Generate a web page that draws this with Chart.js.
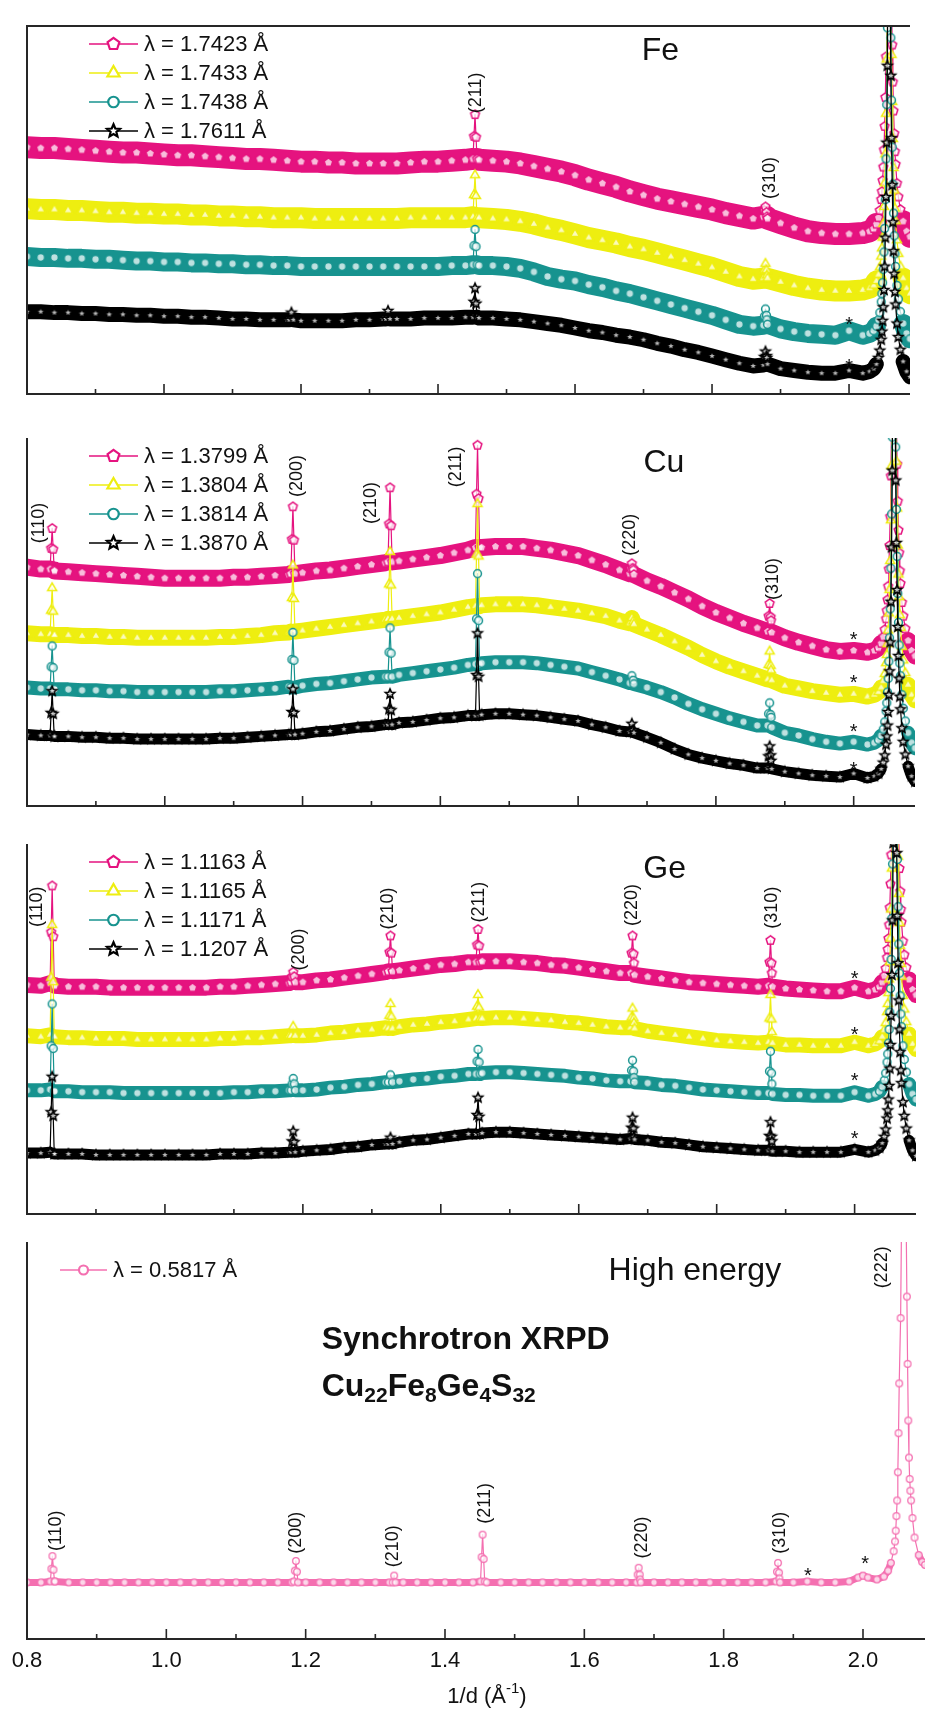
<!DOCTYPE html>
<html>
<head>
<meta charset="utf-8">
<script src="https://cdn.jsdelivr.net/npm/chart.js@4.4.1/dist/chart.umd.min.js"></script>
<style>
  html, body { margin: 0; padding: 0; background: #fff; }
  #wrap { position: relative; width: 936px; height: 1713px; overflow: hidden; background: #fff; }
  #wrap canvas { position: absolute; left: 0; }
</style>
</head>
<body>
<div id="wrap">
  <canvas id="p-fe" width="936" height="420" style="top:0px"></canvas>
  <canvas id="p-cu" width="936" height="410" style="top:417px"></canvas>
  <canvas id="p-ge" width="936" height="410" style="top:824px"></canvas>
  <canvas id="p-he" width="936" height="482" style="top:1231px"></canvas>
</div>
<script>
/* ---------- data (intensity in a.u., offset per pattern) ---------- */

const xTicks = [0.8, 0.9, 1.0, 1.1, 1.2, 1.3, 1.4, 1.5, 1.6, 1.7, 1.8, 1.9, 2.0];
const xTickLabels = ['0.8', '', '1.0', '', '1.2', '', '1.4', '', '1.6', '', '1.8', '', '2.0'];

// background sampled every 0.02 Å-1
const xGrid = [0.80,0.82,0.84,0.86,0.88,0.90,0.92,0.94,0.96,0.98,1.00,1.02,1.04,1.06,1.08,1.10,1.12,1.14,1.16,1.18,
  1.20,1.22,1.24,1.26,1.28,1.30,1.32,1.34,1.36,1.38,1.40,1.42,1.44,1.46,1.48,1.50,1.52,1.54,1.56,1.58,
  1.60,1.62,1.64,1.66,1.68,1.70,1.72,1.74,1.76,1.78,1.80,1.82,1.84,1.86,1.88,1.90,1.92,1.94,1.96,1.98,2.00,2.02];

// (222) reflection, cut by the panel top
const mainX = [2.030,2.036,2.040,2.043,2.045,2.047,2.048,2.049,2.050,2.051,2.052,2.053,2.054,2.055,2.056,2.058,
  2.060,2.061,2.062,2.063,2.064,2.065,2.066,2.067,2.068,2.070,2.072,2.075,2.079,2.084,2.089,2.093];

// ---- Fe K-edge
const feLambdas = ['1.7423', '1.7433', '1.7438', '1.7611'];
const feMagenta = [273,272,272,271,270,269,268,267,267,266,265,264,264,263,262,261,260,260,259,258,
  257,257,256,256,255,255,255,255,256,257,257,258,259,259,258,257,255,252,249,246,
  242,237,233,229,224,220,216,213,210,207,204,200,197,194,196,189,184,180,178,177,177,178];
const feMagentaPk = [[1.451,260],[1.4525,285],[1.454,309],[1.4555,284],[1.457,260],
  [1.875,196],[1.8765,203],[1.878,207],[1.8795,201],[1.881,194]];
const feMagentaMain = [180,183,188,195,203,215,224,236,251,270,296,328,373,433,518,878,
  597,507,438,386,345,313,288,268,254,233,218,204,191,180,174,169];

const feYellow = [205,204,204,203,203,202,201,201,200,200,199,199,198,198,197,197,196,196,195,195,
  195,194,194,194,194,194,194,194,195,195,195,195,195,195,194,193,191,188,184,181,
  177,173,170,167,163,160,156,152,148,144,140,135,130,127,131,124,120,117,115,114,114,115];
const feYellowPk = [[1.451,196],[1.4525,220],[1.454,242],[1.4555,219],[1.457,195],
  [1.875,128],[1.8765,137],[1.878,144],[1.8795,137],[1.881,128]];
const feYellowMain = [117,120,125,132,140,152,161,173,188,207,233,265,310,370,455,815,
  534,444,375,323,282,250,225,205,191,170,155,141,128,117,111,106];

const feTeal = [152,151,151,150,150,149,149,148,147,147,146,146,145,145,144,144,143,143,142,142,
  141,141,141,141,141,141,141,141,141,141,141,142,142,142,142,141,139,135,130,127,
  125,121,118,114,111,107,103,99,95,91,87,82,77,75,82,72,69,67,66,65,70,65];
const feTealPk = [[1.451,143],[1.4525,164],[1.454,182],[1.4555,163],[1.457,143],
  [1.875,76],[1.8765,86],[1.878,94],[1.8795,87],[1.881,77]];
const feTealMain = [67,70,75,82,90,102,111,123,138,157,183,215,260,320,405,765,
  484,394,325,273,232,200,175,155,141,120,105,91,78,67,61,56];

const feBlack = [91,91,90,90,89,89,88,88,87,87,86,86,85,85,84,83,83,82,82,82,
  81,81,81,81,82,82,83,83,83,84,84,84,85,84,84,83,82,80,78,76,
  73,70,68,65,63,60,56,53,49,46,42,38,34,31,40,28,26,24,23,23,26,23];
const feBlackPk = [[1.183,82],[1.186,90],[1.189,82],[1.324,83],[1.327,92],[1.330,83],
  [1.451,85],[1.4525,102],[1.454,117],[1.4555,100],[1.457,85],
  [1.875,32],[1.8765,41],[1.878,47],[1.8795,42],[1.881,33]];
const feBlackMain = [25,28,33,40,48,60,69,81,96,115,141,173,218,278,363,723,
  442,352,283,231,190,158,133,113,99,78,63,49,36,25,19,14];

// ---- Cu K-edge
const cuLambdas = ['1.3799', '1.3804', '1.3814', '1.3870'];
const cuMagenta = [264,262,260,259,258,257,256,255,254,253,252,252,252,252,252,253,253,254,255,256,
  258,260,261,263,265,267,269,271,273,275,277,280,283,286,287,287,287,285,283,280,
  277,272,267,261,261,249,243,236,229,221,214,208,202,197,205,186,181,177,173,171,172,170];
const cuMagentaPk = [[0.8335,262],[0.835,285],[0.8365,307],[0.838,284],[0.8395,261],
  [1.183,257],[1.1845,295],[1.186,331],[1.1875,294],[1.189,257],
  [1.324,270],[1.3255,312],[1.327,352],[1.3285,310],[1.330,270],
  [1.451,286],[1.4525,345],[1.454,399],[1.4555,340],[1.457,286],
  [1.675,257],[1.6765,263],[1.678,268],[1.6795,263],[1.681,256],
  [1.875,193],[1.8765,210],[1.878,224],[1.8795,209],[1.881,192]];
const cuMagentaMain = [172,175,180,187,195,207,216,228,243,262,288,320,365,425,510,870,
  589,499,430,378,337,305,280,260,246,225,210,196,183,172,166,161];

const cuYellow = [191,190,189,189,188,188,187,187,186,186,186,186,186,186,187,187,188,189,191,192,
  194,196,198,200,202,204,206,208,210,212,214,217,220,222,223,223,223,222,220,218,
  216,213,210,205,204,195,189,182,175,167,160,154,149,144,150,133,130,127,125,123,124,121];
const cuYellowPk = [[0.8335,190],[0.835,216],[0.8365,241],[0.838,215],[0.8395,189],
  [1.183,193],[1.1845,230],[1.186,266],[1.1875,229],[1.189,193],
  [1.324,207],[1.3255,245],[1.327,281],[1.3285,244],[1.330,207],
  [1.451,221],[1.4525,278],[1.454,334],[1.4555,276],[1.457,221],
  [1.675,202],[1.678,208],[1.681,201],
  [1.875,140],[1.8765,156],[1.878,171],[1.8795,155],[1.881,139]];
const cuYellowMain = [123,126,131,138,146,158,167,179,194,213,239,271,316,376,461,821,
  540,450,381,329,288,256,231,211,197,176,161,147,134,123,117,112];

const cuTeal = [131,130,129,129,128,128,127,127,126,126,126,126,126,126,127,127,128,129,130,132,
  133,135,136,138,140,142,143,145,147,149,151,153,156,158,159,159,159,158,156,154,
  152,148,144,140,139,131,126,120,113,107,102,97,93,89,98,81,78,74,71,69,71,68];
const cuTealPk = [[0.8335,130],[0.835,154],[0.8365,177],[0.838,153],[0.8395,129],
  [1.183,131],[1.1845,162],[1.186,192],[1.1875,161],[1.189,131],
  [1.324,143],[1.3255,170],[1.327,197],[1.3285,169],[1.330,143],
  [1.451,157],[1.4525,207],[1.454,257],[1.4555,205],[1.457,157],
  [1.675,136],[1.678,144],[1.681,135],
  [1.875,89],[1.8765,102],[1.878,114],[1.8795,101],[1.881,87]];
const cuTealMain = [70,73,78,85,93,105,114,126,141,160,186,218,263,323,408,768,
  487,397,328,276,235,203,178,158,144,123,108,94,81,70,64,59];

const cuBlack = [79,78,77,77,76,76,75,75,74,74,74,74,74,74,75,75,76,77,78,79,
  80,82,83,85,87,88,90,92,93,95,97,98,100,101,102,102,101,100,98,96,
  94,90,87,83,84,76,70,63,57,53,50,47,45,42,50,38,36,34,33,32,36,31];
const cuBlackPk = [[0.8335,78],[0.835,103],[0.8365,127],[0.838,102],[0.8395,77],
  [1.183,79],[1.1845,104],[1.186,129],[1.1875,103],[1.189,79],
  [1.324,90],[1.3255,107],[1.327,124],[1.3285,106],[1.330,90],
  [1.451,100],[1.4525,145],[1.454,191],[1.4555,143],[1.457,100],
  [1.675,82],[1.678,91],[1.681,81],
  [1.875,42],[1.8765,55],[1.878,66],[1.8795,56],[1.881,41]];
const cuBlackMain = [33,36,41,48,56,68,77,89,104,123,149,181,226,286,371,731,
  450,360,291,239,198,166,141,121,107,86,71,57,44,33,27,22];

// ---- Ge K-edge
const geLambdas = ['1.1163', '1.1165', '1.1171', '1.1207'];
const geMagenta = [252,251,251,250,250,250,249,249,249,249,249,249,249,249,250,250,251,252,253,254,
  255,257,258,260,262,264,266,268,270,272,274,275,277,278,278,278,277,276,274,273,
  271,269,267,265,276,261,259,257,255,254,253,252,251,250,265,248,247,246,245,245,249,245];
const geMagentaPk = [[0.8335,254],[0.835,310],[0.8365,361],[0.838,305],[0.8395,252],
  [1.183,255],[1.1845,261],[1.186,266],[1.1875,261],[1.189,255],
  [1.324,267],[1.3255,288],[1.327,306],[1.3285,287],[1.330,267],
  [1.451,277],[1.4525,296],[1.454,313],[1.4555,295],[1.457,277],
  [1.675,265],[1.6765,287],[1.678,306],[1.6795,286],[1.681,263],
  [1.875,251],[1.8765,277],[1.878,301],[1.8795,276],[1.881,250]];
const geMagentaMain = [247,250,255,262,270,282,291,303,318,337,363,395,440,500,585,945,
  664,574,505,453,412,380,355,335,321,300,285,271,258,247,241,236];

const geYellow = [196,195,195,194,194,193,193,193,192,192,192,192,192,192,193,193,194,194,195,196,
  196,197,199,200,202,203,205,206,208,209,211,212,214,215,216,216,215,214,213,211,
  210,208,206,205,210,201,199,197,195,193,191,190,189,188,200,186,186,185,185,185,189,185];
const geYellowPk = [[0.8335,197],[0.835,260],[0.8365,318],[0.838,255],[0.8395,195],
  [1.183,196],[1.186,206],[1.189,196],
  [1.324,204],[1.3255,218],[1.327,231],[1.3285,217],[1.330,204],
  [1.451,215],[1.4525,228],[1.454,241],[1.4555,227],[1.457,215],
  [1.675,205],[1.6765,216],[1.678,226],[1.6795,215],[1.681,204],
  [1.875,189],[1.8765,215],[1.878,241],[1.8795,214],[1.881,188]];
const geYellowMain = [187,190,195,202,210,222,231,243,258,277,303,335,380,440,525,885,
  604,514,445,393,352,320,295,275,261,240,225,211,198,187,181,176];

const geTeal = [136,136,135,135,134,134,134,133,133,133,133,133,133,133,133,134,134,135,135,136,
  136,137,139,140,142,143,145,146,148,149,151,152,154,155,156,156,155,154,153,152,
  150,149,147,146,150,144,142,141,139,137,136,135,134,133,143,131,131,130,130,130,134,130];
const geTealPk = [[0.8335,137],[0.835,185],[0.8365,231],[0.838,182],[0.8395,135],
  [1.183,136],[1.1845,143],[1.186,149],[1.1875,143],[1.189,136],
  [1.324,145],[1.327,153],[1.330,145],
  [1.451,154],[1.4525,168],[1.454,181],[1.4555,167],[1.457,154],
  [1.675,146],[1.6765,158],[1.678,169],[1.6795,157],[1.681,145],
  [1.875,133],[1.8765,157],[1.878,179],[1.8795,155],[1.881,132]];
const geTealMain = [132,135,140,147,155,167,176,188,203,222,248,280,325,385,470,830,
  549,459,390,338,297,265,240,220,206,185,170,156,143,132,126,121];

const geBlack = [67,67,66,66,66,65,65,65,65,65,65,65,65,65,66,66,66,67,67,68,
  69,70,71,73,74,76,77,79,81,82,84,86,88,89,90,90,89,88,87,86,
  85,84,83,82,85,81,79,78,76,74,73,72,71,70,80,69,68,68,68,68,71,68];
const geBlackPk = [[0.8335,68],[0.835,112],[0.8365,151],[0.838,108],[0.8395,66],
  [1.183,68],[1.1845,80],[1.186,91],[1.1875,79],[1.189,68],
  [1.324,77],[1.327,84],[1.330,77],
  [1.451,88],[1.4525,109],[1.454,128],[1.4555,107],[1.457,88],
  [1.675,83],[1.6765,95],[1.678,106],[1.6795,94],[1.681,82],
  [1.875,70],[1.8765,86],[1.878,101],[1.8795,85],[1.881,69]];
const geBlackMain = [70,73,78,85,93,105,114,126,141,160,186,218,263,323,408,768,
  487,397,328,276,235,203,178,158,144,123,108,94,81,70,64,59];

// ---- high energy
const heLambdas = ['0.5817'];
const hePink = [58,58,59,58,58,58,58,58,58,58,58,58,58,58,58,58,58,58,58,58,
  58,58,58,58,58,58,58,58,58,58,58,58,58,58,58,58,58,58,58,58,
  58,58,58,58,61,58,58,58,58,58,58,58,58,58,62,58,59,58,58,59,65,61];
const hePinkPk = [[0.8335,59],[0.835,72],[0.8365,85],[0.838,71],[0.8395,59],
  [1.183,59],[1.1845,70],[1.186,80],[1.1875,69],[1.189,58],
  [1.325,58],[1.327,65],[1.329,58],
  [1.451,59],[1.4525,84],[1.454,107],[1.4555,82],[1.457,59],
  [1.675,58],[1.6765,66],[1.678,73],[1.6795,66],[1.681,58],
  [1.875,59],[1.8765,69],[1.878,78],[1.8795,68],[1.881,58],
  [1.993,63],[2.007,63]];
const heMainX = [2.030,2.036,2.040,2.044,2.046,2.047,2.048,2.049,2.050,2.051,2.052,2.054,2.056,2.058,
  2.061,2.063,2.064,2.065,2.066,2.067,2.068,2.069,2.071,2.074,2.080,2.085,2.089];
const hePinkMain = [64,70,78,90,100,111,126,142,171,211,262,329,480,900,
  500,351,282,224,186,164,152,142,124,104,86,79,76];

// reflection labels: [text, 1/d, intensity]
const feHkl = [['(211)',1.455,333],['(310)',1.884,239]];
const cuHkl = [['(110)',0.817,313],['(200)',1.192,365],['(210)',1.299,335],['(211)',1.423,375],['(220)',1.676,300],['(310)',1.883,251]];
const geHkl = [['(110)',0.814,338],['(200)',1.195,291],['(210)',1.323,336],['(211)',1.455,343],['(220)',1.677,340],['(310)',1.880,337]];
const heHkl = [['(110)',0.841,111],['(200)',1.186,109],['(210)',1.326,95],['(211)',1.458,139],['(220)',1.683,104],['(310)',1.881,109],['(222)',2.028,381]];

// impurity marks
const feStars = [[2.0,80],[2.0,34]];
const cuStars = [[2.0,187],[2.0,140],[2.0,86],[2.0,44]];
const geStars = [[2.0,262],[2.0,201],[2.0,150],[2.0,86]];
const heStars = [[1.921,68],[2.003,80]];

/* ---------- styling ---------- */

const FONT = "'Liberation Sans', Arial, Helvetica, sans-serif";
const AXIS = '#262626';
const COLORS = { magenta: '#e5137f', yellow: '#eeee10', teal: '#17938f', black: '#000000', pink: '#f46fb0' };

function shapePath(g, shape, cx, cy, r) {
  g.beginPath();
  if (shape === 'circle') {
    g.arc(cx, cy, r, 0, Math.PI * 2);
  } else {
    const n = shape === 'triangle' ? 3 : 5;
    const steps = shape === 'star' ? 10 : n;
    for (let i = 0; i < steps; i++) {
      const ang = -Math.PI / 2 + i * 2 * Math.PI / steps;
      const rr = shape === 'star' && i % 2 ? r * 0.45 : r;
      const px = cx + rr * Math.cos(ang), py = cy + rr * Math.sin(ang);
      i ? g.lineTo(px, py) : g.moveTo(px, py);
    }
    g.closePath();
  }
}

function drawMarker(g, shape, color, x, y, r, lw, fill) {
  shapePath(g, shape, x, y, r);
  g.fillStyle = fill || '#fff';
  g.fill();
  g.lineWidth = lw;
  g.strokeStyle = color;
  g.stroke();
}

function makeMarker(shape, color, r, lw) {
  const size = Math.ceil(2 * r + 2 * lw + 2);
  const c = document.createElement('canvas');
  c.width = size; c.height = size;
  drawMarker(c.getContext('2d'), shape, color, size / 2, size / 2, r, lw, 'rgba(255,255,255,0.72)');
  return c;
}

const MARK = {
  magenta: { shape: 'pentagon', r: 4.6, lw: 1.5 },
  yellow: { shape: 'triangle', r: 5.2, lw: 1.5 },
  teal: { shape: 'circle', r: 3.9, lw: 1.5 },
  black: { shape: 'star', r: 5.0, lw: 1.6 },
  pink: { shape: 'circle', r: 3.3, lw: 1.3 }
};

function buildPoints(grid, peaks, mx, main) {
  const pts = xGrid.map((x, i) => ({ x, y: grid[i] }));
  peaks.forEach(p => pts.push({ x: p[0], y: p[1] }));
  mx.forEach((x, i) => pts.push({ x, y: main[i] }));
  return pts.sort((a, b) => a.x - b.x);
}

function makeDataset(key, pts, band, order) {
  const m = MARK[key];
  return {
    data: pts,
    borderColor: COLORS[key],
    backgroundColor: '#fff',
    borderWidth: band,
    borderCapStyle: 'round',
    borderJoinStyle: 'round',
    pointStyle: makeMarker(m.shape, COLORS[key], m.r, m.lw),
    pointRadius: 3,
    order,
    clip: 0,
    segment: {
      // thick band along the background, thin line up the Bragg peaks
      borderWidth: ctx => {
        const dx = Math.abs(ctx.p1.x - ctx.p0.x);
        const dy = Math.abs(ctx.p1.y - ctx.p0.y);
        return dy > 3 * Math.max(dx, 0.5) ? 1.2 : band;
      }
    }
  };
}

const decor = {
  'p-fe': { top: true, name: 'Fe', nameAt: [1.7245, 379], hkl: feHkl, stars: feStars,
    legend: feLambdas.map((l, i) => [['magenta', 'yellow', 'teal', 'black'][i], l]) },
  'p-cu': { name: 'Cu', nameAt: [1.7245, 379], hkl: cuHkl, stars: cuStars,
    legend: cuLambdas.map((l, i) => [['magenta', 'yellow', 'teal', 'black'][i], l]) },
  'p-ge': { name: 'Ge', nameAt: [1.7245, 379], hkl: geHkl, stars: geStars,
    legend: geLambdas.map((l, i) => [['magenta', 'yellow', 'teal', 'black'][i], l]) },
  'p-he': { name: 'High energy', nameAt: [1.7587, 377], hkl: heHkl, stars: heStars, axis: true, he: true,
    legend: heLambdas.map(l => ['pink', l]) }
};

const decorPlugin = {
  id: 'decor',
  afterDatasetsDraw(chart) {
    const d = decor[chart.canvas.id];
    const { ctx, chartArea: a } = chart;
    const x = chart.scales.x, y = chart.scales.y;
    ctx.save();

    // frame and inward ticks
    ctx.strokeStyle = AXIS;
    ctx.lineWidth = 2;
    ctx.beginPath();
    ctx.moveTo(a.left, a.top); ctx.lineTo(a.left, a.bottom);
    ctx.moveTo(a.left - 1, a.bottom); ctx.lineTo(a.right, a.bottom);
    if (d.top) { ctx.moveTo(a.left - 1, a.top); ctx.lineTo(a.right, a.top); }
    ctx.stroke();
    ctx.lineWidth = 1.6;
    ctx.beginPath();
    xTicks.forEach((v, i) => {
      const px = x.getPixelForValue(v);
      ctx.moveTo(px, a.bottom); ctx.lineTo(px, a.bottom - (xTickLabels[i] ? 10 : 5));
    });
    ctx.stroke();

    ctx.fillStyle = '#111';

    // panel name
    ctx.font = '32px ' + FONT;
    ctx.textAlign = 'center';
    ctx.textBaseline = 'middle';
    ctx.fillText(d.name, x.getPixelForValue(d.nameAt[0]), y.getPixelForValue(d.nameAt[1]));

    // reflection labels
    ctx.font = '18px ' + FONT;
    d.hkl.forEach(([t, v, h]) => {
      ctx.save();
      ctx.translate(x.getPixelForValue(v), y.getPixelForValue(h));
      ctx.rotate(-Math.PI / 2);
      ctx.fillText(t, 0, 0);
      ctx.restore();
    });

    // impurity stars
    ctx.font = '20px ' + FONT;
    d.stars.forEach(([v, h]) => ctx.fillText('*', x.getPixelForValue(v), y.getPixelForValue(h) + 4));

    // legend
    ctx.font = '22px ' + FONT;
    ctx.textAlign = 'left';
    d.legend.forEach(([key, lam], i) => {
      const x0 = d.he ? a.left + 33 : a.left + 62;
      const x1 = d.he ? a.left + 80 : a.left + 111;
      const yy = d.he ? a.top + 28 : a.top + 18 + i * 29;
      ctx.strokeStyle = COLORS[key];
      ctx.lineWidth = 1.5;
      ctx.beginPath(); ctx.moveTo(x0, yy); ctx.lineTo(x1, yy); ctx.stroke();
      const m = MARK[key];
      drawMarker(ctx, m.shape, COLORS[key], (x0 + x1) / 2, yy, d.he ? 4.5 : m.r * 1.35, 2.2);
      ctx.fillStyle = '#111';
      ctx.fillText('λ = ' + lam + ' Å', x1 + 6, yy + 1);
    });

    if (d.he) {
      ctx.font = 'bold 32px ' + FONT;
      const lx = x.getPixelForValue(1.223);
      ctx.fillText('Synchrotron XRPD', lx, y.getPixelForValue(306));
      const parts = [['Cu', 0], ['22', 1], ['Fe', 0], ['8', 1], ['Ge', 0], ['4', 1], ['S', 0], ['32', 1]];
      let cx = lx;
      const by = y.getPixelForValue(258);
      parts.forEach(([t, sub]) => {
        ctx.font = sub ? 'bold 21px ' + FONT : 'bold 32px ' + FONT;
        ctx.fillText(t, cx, by + (sub ? 9 : 0));
        cx += ctx.measureText(t).width;
      });
    }

    if (d.axis) {
      ctx.font = '22px ' + FONT;
      ctx.textAlign = 'center';
      xTicks.forEach((v, i) => {
        if (xTickLabels[i]) ctx.fillText(xTickLabels[i], x.getPixelForValue(v), a.bottom + 22);
      });
      // axis title 1/d (Å^-1)
      const main1 = '1/d (Å', sup = '-1', main2 = ')';
      ctx.font = '22px ' + FONT;
      const w1 = ctx.measureText(main1).width, w3 = ctx.measureText(main2).width;
      ctx.font = '15px ' + FONT;
      const w2 = ctx.measureText(sup).width;
      let tx = 487 - (w1 + w2 + w3) / 2;
      const ty = a.bottom + 58;
      ctx.textAlign = 'left';
      ctx.font = '22px ' + FONT; ctx.fillText(main1, tx, ty); tx += w1;
      ctx.font = '15px ' + FONT; ctx.fillText(sup, tx, ty - 8); tx += w2;
      ctx.font = '22px ' + FONT; ctx.fillText(main2, tx, ty);
    }
    ctx.restore();
  }
};

function makePanel(id, datasets, padTop, padBottom) {
  return new Chart(document.getElementById(id), {
    type: 'line',
    data: { datasets },
    options: {
      responsive: false,
      animation: false,
      devicePixelRatio: 1,
      events: [],
      layout: { padding: { left: 27, right: 0, top: padTop, bottom: padBottom } },
      plugins: { legend: { display: false }, tooltip: { enabled: false } },
      scales: {
        x: { type: 'linear', display: false, min: 0.8, max: 2.089 },
        y: { type: 'linear', display: false, min: 0, max: 407 }
      }
    },
    plugins: [decorPlugin]
  });
}

makePanel('p-fe', [
  makeDataset('magenta', buildPoints(feMagenta, feMagentaPk, mainX, feMagentaMain), 22, 3),
  makeDataset('yellow', buildPoints(feYellow, feYellowPk, mainX, feYellowMain), 21, 2),
  makeDataset('teal', buildPoints(feTeal, feTealPk, mainX, feTealMain), 19, 1),
  makeDataset('black', buildPoints(feBlack, feBlackPk, mainX, feBlackMain), 15, 0)
], 10, 3);

makePanel('p-cu', [
  makeDataset('magenta', buildPoints(cuMagenta, cuMagentaPk, mainX, cuMagentaMain), 17, 3),
  makeDataset('yellow', buildPoints(cuYellow, cuYellowPk, mainX, cuYellowMain), 16, 2),
  makeDataset('teal', buildPoints(cuTeal, cuTealPk, mainX, cuTealMain), 14, 1),
  makeDataset('black', buildPoints(cuBlack, cuBlackPk, mainX, cuBlackMain), 11, 0)
], 0, 3);

makePanel('p-ge', [
  makeDataset('magenta', buildPoints(geMagenta, geMagentaPk, mainX, geMagentaMain), 16, 3),
  makeDataset('yellow', buildPoints(geYellow, geYellowPk, mainX, geYellowMain), 15, 2),
  makeDataset('teal', buildPoints(geTeal, geTealPk, mainX, geTealMain), 14, 1),
  makeDataset('black', buildPoints(geBlack, geBlackPk, mainX, geBlackMain), 11, 0)
], 0, 3);

makePanel('p-he', [
  makeDataset('pink', buildPoints(hePink, hePinkPk, heMainX, hePinkMain), 7, 0)
], 0, 74);
</script>
</body>
</html>
